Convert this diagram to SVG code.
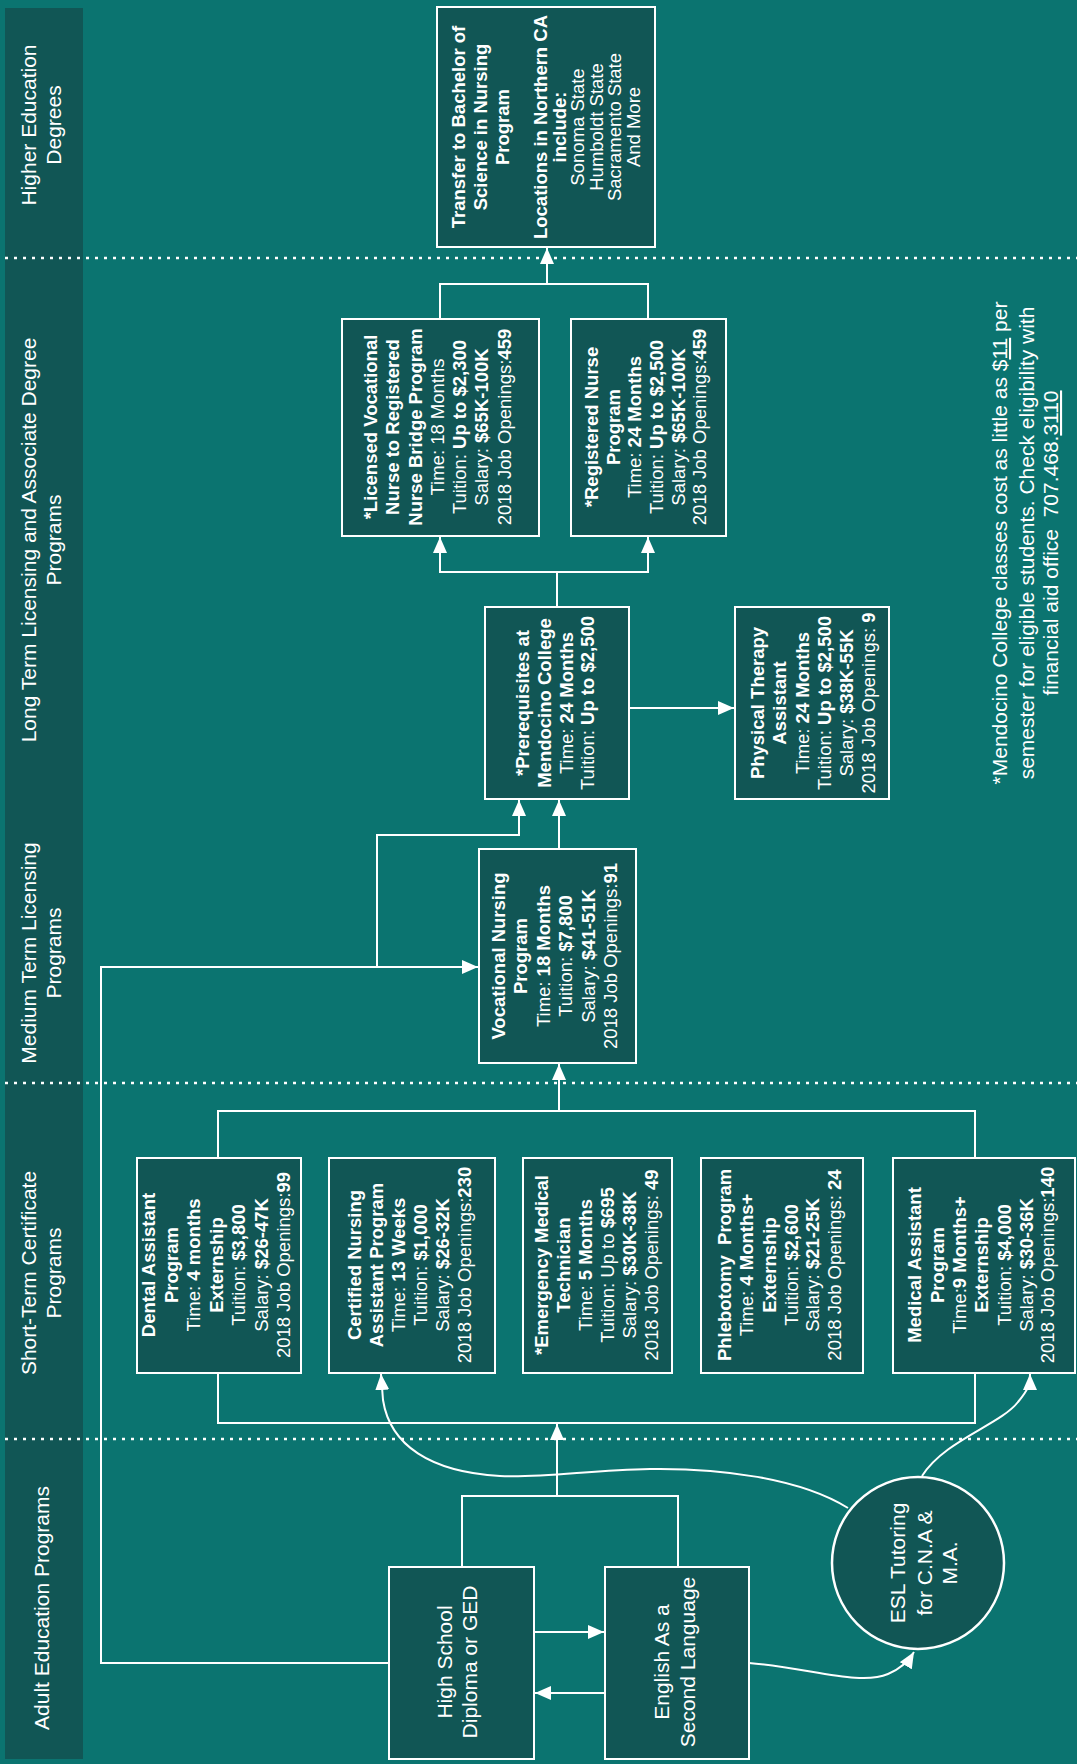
<svg xmlns="http://www.w3.org/2000/svg" width="1077" height="1764" viewBox="0 0 1077 1764">
<defs>
<style>
.t{font-family:"Liberation Sans",Arial,sans-serif;fill:#fff;font-size:18.5px;text-anchor:middle}
.h{font-size:21px}
.b{font-weight:bold}
.box{fill:#115655;stroke:#fff;stroke-width:2}
.ln{fill:none;stroke:#fff;stroke-width:2}
.dot{fill:none;stroke:#fff;stroke-width:2.5;stroke-dasharray:3 6}
</style>
<marker id="arr" viewBox="0 0 16 14" refX="16" refY="7" markerWidth="16" markerHeight="14" orient="auto" markerUnits="userSpaceOnUse">
<path d="M0,0 L16,7 L0,14 z" fill="#fff"/>
</marker>
</defs>
<rect x="0" y="0" width="1077" height="1764" fill="#0B7470"/>
<g id="lanes">
<rect x="5" y="8" width="78" height="1751" fill="#115655"/>
<line class="dot" x1="5" y1="258" x2="1077" y2="258"/>
<line class="dot" x1="5" y1="1083" x2="1077" y2="1083"/>
<line class="dot" x1="5" y1="1439" x2="1077" y2="1439"/>
<g transform="translate(44,125) rotate(-90)"><text class="t h" y="-8">Higher Education</text><text class="t h" y="17">Degrees</text></g>
<g transform="translate(44,540) rotate(-90)"><text class="t h" y="-8">Long Term Licensing and Associate Degree</text><text class="t h" y="17">Programs</text></g>
<g transform="translate(44,953) rotate(-90)"><text class="t h" y="-8">Medium Term Licensing</text><text class="t h" y="17">Programs</text></g>
<g transform="translate(44,1273) rotate(-90)"><text class="t h" y="-8">Short-Term Certificate</text><text class="t h" y="17">Programs</text></g>
<g transform="translate(44,1608) rotate(-90)"><text class="t h" y="5">Adult Education Programs</text></g>
</g>
<g id="connectors">
<path class="ln" d="M440,319 V284 H648 V319"/>
<path class="ln" d="M547,284 V248" marker-end="url(#arr)"/>
<path class="ln" d="M557,607 V572 H440 V537" marker-end="url(#arr)"/>
<path class="ln" d="M557,572 H648 V537" marker-end="url(#arr)"/>
<path class="ln" d="M629,708 H734" marker-end="url(#arr)"/>
<path class="ln" d="M559,849 V800" marker-end="url(#arr)"/>
<path class="ln" d="M389,1663 H101 V967 H478" marker-end="url(#arr)"/>
<path class="ln" d="M377,967 V835 H519 V800" marker-end="url(#arr)"/>
<path class="ln" d="M218,1158 V1111 H975 V1158"/>
<path class="ln" d="M559,1111 V1064" marker-end="url(#arr)"/>
<path class="ln" d="M218,1373 V1423 H975 V1373"/>
<path class="ln" d="M462,1567 V1496 H678 V1567"/>
<path class="ln" d="M557,1496 V1424" marker-end="url(#arr)"/>
<path class="ln" d="M534,1632 H604" marker-end="url(#arr)"/>
<path class="ln" d="M605,1693 H535" marker-end="url(#arr)"/>
<path class="ln" d="M749,1663 C810,1668 860,1686 888,1674 C900,1669 908,1662 914,1652" marker-end="url(#arr)"/>
<path class="ln" d="M848,1508 C800,1478 720,1468 650,1469 C590,1470 545,1478 500,1476 C430,1472 390,1445 383,1400 L381,1374" marker-end="url(#arr)"/>
<path class="ln" d="M922,1476 C945,1440 1000,1425 1018,1402 C1028,1390 1030,1385 1030,1374" marker-end="url(#arr)"/>
</g>
<g id="transfer">
<rect class="box" x="437" y="7" width="218" height="240"/>
<g transform="translate(546,127) rotate(-90)">
<text class="t b" y="-81">Transfer to Bachelor of</text>
<text class="t b" y="-59">Science in Nursing</text>
<text class="t b" y="-37">Program</text>
<text class="t b" y="1">Locations in Northern CA</text>
<text class="t b" y="20">include:</text>
<text class="t" y="38">Sonoma State</text>
<text class="t" y="57">Humboldt State</text>
<text class="t" y="75">Sacramento State</text>
<text class="t" y="94">And More</text>
</g>
</g>
<g id="lvn-rn">
<rect class="box" x="342" y="319" width="197" height="217"/>
<g transform="translate(440,427) rotate(-90)">
<text class="t b" y="-63">*Licensed Vocational</text>
<text class="t b" y="-41">Nurse to Registered</text>
<text class="t b" y="-18">Nurse Bridge Program</text>
<text class="t" y="4">Time: 18 Months</text>
<text class="t" y="26">Tuition: <tspan class="b">Up to $2,300</tspan></text>
<text class="t" y="48">Salary: <tspan class="b">$65K-100K</tspan></text>
<text class="t" y="71">2018 Job Openings:<tspan class="b">459</tspan></text>
</g>
</g>
<g id="rn">
<rect class="box" x="571" y="319" width="155" height="217"/>
<g transform="translate(648,427) rotate(-90)">
<text class="t b" y="-50">*Registered Nurse</text>
<text class="t b" y="-28">Program</text>
<text class="t" y="-7">Time: <tspan class="b">24 Months</tspan></text>
<text class="t" y="15">Tuition: <tspan class="b">Up to $2,500</tspan></text>
<text class="t" y="37">Salary: <tspan class="b">$65K-100K</tspan></text>
<text class="t" y="58">2018 Job Openings:<tspan class="b">459</tspan></text>
</g>
</g>
<g id="prereq">
<rect class="box" x="485" y="607" width="144" height="192"/>
<g transform="translate(557,703) rotate(-90)">
<text class="t b" y="-28">*Prerequisites at</text>
<text class="t b" y="-6">Mendocino College</text>
<text class="t" y="16">Time: <tspan class="b">24 Months</tspan></text>
<text class="t" y="37">Tuition: <tspan class="b">Up to $2,500</tspan></text>
</g>
</g>
<g id="pta">
<rect class="box" x="735" y="607" width="154" height="192"/>
<g transform="translate(812,703) rotate(-90)">
<text class="t b" y="-48">Physical Therapy</text>
<text class="t b" y="-26">Assistant</text>
<text class="t" y="-3">Time: <tspan class="b">24 Months</tspan></text>
<text class="t" y="19">Tuition: <tspan class="b">Up to $2,500</tspan></text>
<text class="t" y="41">Salary: <tspan class="b">$38K-55K</tspan></text>
<text class="t" y="63">2018 Job Openings: <tspan class="b">9</tspan></text>
</g>
</g>
<g id="vocational">
<rect class="box" x="479" y="849" width="157" height="214"/>
<g transform="translate(557,956) rotate(-90)">
<text class="t b" y="-52">Vocational Nursing</text>
<text class="t b" y="-30">Program</text>
<text class="t" y="-7">Time: <tspan class="b">18 Months</tspan></text>
<text class="t" y="15">Tuition: <tspan class="b">$7,800</tspan></text>
<text class="t" y="38">Salary: <tspan class="b">$41-51K</tspan></text>
<text class="t" y="60">2018 Job Openings:<tspan class="b">91</tspan></text>
</g>
</g>
<g id="dental">
<rect class="box" x="137" y="1158" width="164" height="215"/>
<g transform="translate(219,1265) rotate(-90)">
<text class="t b" y="-64">Dental Assistant</text>
<text class="t b" y="-41.5">Program</text>
<text class="t" y="-19">Time: <tspan class="b">4 months</tspan></text>
<text class="t b" y="3.5">Externship</text>
<text class="t" y="26">Tuition: <tspan class="b">$3,800</tspan></text>
<text class="t" y="48.5">Salary: <tspan class="b">$26-47K</tspan></text>
<text class="t" y="71">2018 Job Openings:<tspan class="b">99</tspan></text>
</g>
</g>
<g id="cna">
<rect class="box" x="329" y="1158" width="166" height="215"/>
<g transform="translate(412,1265) rotate(-90)">
<text class="t b" y="-51">Certified Nursing</text>
<text class="t b" y="-29">Assistant Program</text>
<text class="t" y="-7">Time: <tspan class="b">13 Weeks</tspan></text>
<text class="t" y="15">Tuition: <tspan class="b">$1,000</tspan></text>
<text class="t" y="37">Salary: <tspan class="b">$26-32K</tspan></text>
<text class="t" y="59">2018 Job Openings:<tspan class="b">230</tspan></text>
</g>
</g>
<g id="emt">
<rect class="box" x="523" y="1158" width="149" height="215"/>
<g transform="translate(597,1265) rotate(-90)">
<text class="t b" y="-49">*Emergency Medical</text>
<text class="t b" y="-27">Technician</text>
<text class="t" y="-5">Time: <tspan class="b">5 Months</tspan></text>
<text class="t" y="17">Tuition: Up to <tspan class="b">$695</tspan></text>
<text class="t" y="39">Salary: <tspan class="b">$30K-38K</tspan></text>
<text class="t" y="61">2018 Job Openings: <tspan class="b">49</tspan></text>
</g>
</g>
<g id="phlebotomy">
<rect class="box" x="701" y="1158" width="162" height="215"/>
<g transform="translate(782,1265) rotate(-90)">
<text class="t b" y="-51">Phlebotomy&#160; Program</text>
<text class="t" y="-29">Time: <tspan class="b">4 Months+</tspan></text>
<text class="t b" y="-6">Externship</text>
<text class="t" y="16">Tuition: <tspan class="b">$2,600</tspan></text>
<text class="t" y="37">Salary: <tspan class="b">$21-25K</tspan></text>
<text class="t" y="59">2018 Job Openings: <tspan class="b">24</tspan></text>
</g>
</g>
<g id="medical">
<rect class="box" x="893" y="1158" width="182" height="215"/>
<g transform="translate(984,1265) rotate(-90)">
<text class="t b" y="-63">Medical Assistant</text>
<text class="t b" y="-40">Program</text>
<text class="t" y="-18">Time:<tspan class="b">9 Months+</tspan></text>
<text class="t b" y="4">Externship</text>
<text class="t" y="27">Tuition: <tspan class="b">$4,000</tspan></text>
<text class="t" y="49">Salary: <tspan class="b">$30-36K</tspan></text>
<text class="t" y="70">2018 Job Openings:<tspan class="b">140</tspan></text>
</g>
</g>
<g id="highschool">
<rect class="box" x="389" y="1567" width="145" height="192"/>
<g transform="translate(461,1662) rotate(-90)">
<text class="t h" y="-9">High School</text>
<text class="t h" y="16">Diploma or GED</text>
</g>
</g>
<g id="esl">
<rect class="box" x="605" y="1567" width="144" height="192"/>
<g transform="translate(677,1662) rotate(-90)">
<text class="t h" y="-8">English As a</text>
<text class="t h" y="18">Second Language</text>
</g>
</g>
<g id="esl-tutoring">
<circle cx="918" cy="1563" r="86" fill="#115655" stroke="#fff" stroke-width="2.5"/>
<g transform="translate(918,1563) rotate(-90)">
<text class="t h" y="-13">ESL Tutoring</text>
<text class="t h" y="14">for C.N.A &amp;</text>
<text class="t h" y="39">M.A.</text>
</g>
</g>
<g id="footnote" transform="translate(1030,543) rotate(-90)">
<text class="t h" y="-23">*Mendocino College classes cost as little as $<tspan text-decoration="underline">11</tspan> per</text>
<text class="t h" y="4">semester for eligible students. Check eligibility with</text>
<text class="t h" y="28">financial aid office&#160; 707.468.<tspan text-decoration="underline">3110</tspan></text>
</g>
</svg>
